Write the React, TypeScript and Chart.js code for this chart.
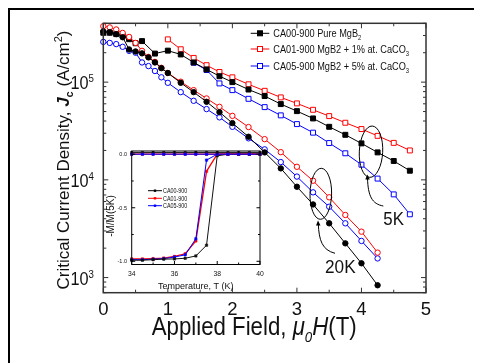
import React, { useEffect, useRef } from "react";
import { Chart, registerables } from "chart.js";

Chart.register(...registerables);

// ---------------- main chart data: Jc (A/cm^2) vs applied field (T) ----------------
const field5K_CA00 = [0, 0.1, 0.2, 0.3, 0.4, 0.5, 0.6, 0.8, 1.0, 1.2, 1.4, 1.6, 1.8, 2.0, 2.25, 2.5, 2.75, 3.0, 3.25, 3.5, 3.75, 4.0, 4.25, 4.5, 4.75];
const jc5K_CA00 = [3.2e5, 3.2e5, 3.1e5, 3.0e5, 2.75e5, 2.5e5, 2.63e5, 1.96e5, 2.1e5, 1.92e5, 1.59e5, 1.35e5, 1.15e5, 1.0e5, 8.4e4, 7.2e4, 5.96e4, 5.05e4, 4.25e4, 3.49e4, 2.89e4, 2.36e4, 1.91e4, 1.56e4, 1.24e4];

const field5K_CA01 = [1.0, 1.2, 1.4, 1.6, 1.8, 2.0, 2.25, 2.5, 2.75, 3.0, 3.25, 3.5, 3.75, 4.0, 4.25, 4.5, 4.75];
const jc5K_CA01 = [2.74e5, 2.17e5, 1.77e5, 1.49e5, 1.27e5, 1.12e5, 9.5e4, 8.15e4, 6.98e4, 6.06e4, 5.21e4, 4.49e4, 3.84e4, 3.31e4, 2.82e4, 2.39e4, 2.0e4];

const field5K_CA05 = [1.4, 1.6, 1.8, 2.0, 2.25, 2.5, 2.75, 3.0, 3.25, 3.5, 3.75, 4.0, 4.25, 4.5, 4.75];
const jc5K_CA05 = [1.58e5, 1.33e5, 9.7e4, 8.28e4, 6.75e4, 5.55e4, 4.57e4, 3.72e4, 3.04e4, 2.38e4, 1.87e4, 1.43e4, 1.03e4, 7.1e3, 4.44e3];

const field20K = [0, 0.1, 0.2, 0.3, 0.4, 0.5, 0.6, 0.7, 0.8, 0.9, 1.0, 1.2, 1.4, 1.6, 1.8, 2.0, 2.25, 2.5, 2.75, 3.0, 3.25, 3.5, 3.75, 4.0, 4.25];
const jc20K_CA00 = [3.3e5, 3.25e5, 3.1e5, 2.88e5, 2.16e5, 2.06e5, 1.97e5, 1.79e5, 1.59e5, 1.39e5, 1.24e5, 9.84e4, 7.9e4, 6.29e4, 4.93e4, 3.81e4, 2.76e4, 1.91e4, 1.31e4, 8.5e3, 5.6e3, 3.59e3, 2.24e3, 1.4e3, 834];
const jc20K_CA01 = [3.74e5, 3.63e5, 3.46e5, 3.19e5, 2.9e5, 2.52e5, 2.09e5, 1.81e5, 1.61e5, 1.4e5, 1.24e5, 1.01e5, 8.28e4, 6.81e4, 5.59e4, 4.52e4, 3.47e4, 2.61e4, 1.92e4, 1.36e4, 9.8e3, 6.63e3, 4.37e3, 2.95e3, 1.8e3];
const jc20K_CA05 = [2.58e5, 2.52e5, 2.45e5, 2.3e5, 2.09e5, 2.0e5, 1.59e5, 1.46e5, 1.3e5, 1.12e5, 9.84e4, 7.9e4, 6.44e4, 5.3e4, 4.36e4, 3.49e4, 2.66e4, 2.05e4, 1.52e4, 1.08e4, 7.45e3, 5.31e3, 3.59e3, 2.37e3, 1.57e3];

const xTickLabels = ["0", "1", "2", "3", "4", "5"];
const yTickExponents = ["3", "4", "5"];
const legendNames = ["CA00-900 Pure MgB|2", "CA01-900 MgB2 + 1% at. CaCO|3", "CA05-900 MgB2 + 5% at. CaCO|3"];
const seriesColors = ["#000000", "#ff0000", "#0000ff"];

// ---------------- inset data: -M/M(5K) vs temperature (K) ----------------
const tempK = [34, 34.5, 35, 35.5, 36, 36.5, 37, 37.5, 38, 38.5, 39, 39.5, 40];
const zfc_CA00 = [-0.99, -0.99, -0.985, -0.98, -0.978, -0.972, -0.95, -0.85, -0.015, 0, 0, 0, 0];
const zfc_CA01 = [-0.978, -0.978, -0.975, -0.97, -0.955, -0.93, -0.81, -0.16, 0, 0, 0, 0, 0];
const zfc_CA05 = [-0.985, -0.985, -0.98, -0.975, -0.96, -0.94, -0.79, -0.055, 0, 0, 0, 0, 0];
const fc_CA00 = [0.015, 0.015, 0.015, 0.015, 0.015, 0.015, 0.015, 0.015, 0.015, 0.015, 0.015, 0.015, 0.015];
const fc_CA01 = [0, 0, 0, 0, 0, 0, 0, 0, 0, 0, 0, 0, 0];
const fc_CA05 = [0, 0, 0, 0, 0, 0, 0, 0, 0, 0, 0, 0, 0];
const insetXTicks = ["34", "36", "38", "40"];
const insetYTicks = ["0.0", "-0.5", "-1.0"];
const insetLegend = ["CA00-900", "CA01-900", "CA05-900"];

// ---------------- helpers ----------------
const FONT = '"Liberation Sans", Arial, sans-serif';
type Seg = { t: string; size: number; font?: string; dy?: number };

function measureRich(ctx: CanvasRenderingContext2D, segs: Seg[]) {
  return segs.map((s) => {
    ctx.font = `${s.font ?? ""} ${s.size}px ${FONT}`.trim();
    return ctx.measureText(s.t).width;
  });
}

function drawRich(
  ctx: CanvasRenderingContext2D,
  segs: Seg[],
  x: number,
  y: number,
  align: "left" | "center" | "right",
  hscale = 1,
  fitWidth?: number
) {
  ctx.save();
  const ws = measureRich(ctx, segs);
  const total = ws.reduce((p, c) => p + c, 0);
  const hs = fitWidth ? fitWidth / total : hscale;
  ctx.translate(x, y);
  ctx.scale(hs, 1);
  let cx = align === "left" ? 0 : align === "center" ? -total / 2 : -total;
  ctx.textAlign = "left";
  ctx.textBaseline = "alphabetic";
  segs.forEach((s, i) => {
    ctx.font = `${s.font ?? ""} ${s.size}px ${FONT}`.trim();
    ctx.fillText(s.t, cx, s.dy ?? 0);
    cx += ws[i];
  });
  ctx.restore();
}

function line(ctx: CanvasRenderingContext2D, x1: number, y1: number, x2: number, y2: number) {
  ctx.beginPath();
  ctx.moveTo(x1, y1);
  ctx.lineTo(x2, y2);
  ctx.stroke();
}

function arrowHead(ctx: CanvasRenderingContext2D, x: number, y: number, ang: number, size: number) {
  ctx.save();
  ctx.translate(x, y);
  ctx.rotate(ang);
  ctx.beginPath();
  ctx.moveTo(0, 0);
  ctx.lineTo(-size, -size * 0.45);
  ctx.lineTo(-size, size * 0.45);
  ctx.closePath();
  ctx.fill();
  ctx.restore();
}

// page offset of main canvas = (10,10)
const mainDecor = {
  id: "mainDecor",
  afterDatasetsDraw(chart: any) {
    const ctx: CanvasRenderingContext2D = chart.ctx;
    const a = chart.chartArea;
    const xs = chart.scales.x;
    const ys = chart.scales.y;
    ctx.save();
    // frame
    ctx.strokeStyle = "#333";
    ctx.lineWidth = 1.5;
    ctx.strokeRect(a.left, a.top, a.right - a.left, a.bottom - a.top);
    // ticks (inward, mirrored)
    ctx.lineWidth = 1;
    const xMajors = xTickLabels.map(Number);
    for (let i = 0; i < xMajors.length; i++) {
      const px = xs.getPixelForValue(xMajors[i]);
      line(ctx, px, a.bottom, px, a.bottom - 5);
      line(ctx, px, a.top, px, a.top + 5);
      if (i < xMajors.length - 1) {
        const pm = xs.getPixelForValue((xMajors[i] + xMajors[i + 1]) / 2);
        line(ctx, pm, a.bottom, pm, a.bottom - 3);
        line(ctx, pm, a.top, pm, a.top + 3);
      }
    }
    for (let e = 2; e <= 5; e++) {
      for (let k = 1; k <= 9; k++) {
        const v = k * Math.pow(10, e);
        if (v < ys.min || v > ys.max) continue;
        const py = ys.getPixelForValue(v);
        const L = k === 1 ? 5 : 3;
        line(ctx, a.left, py, a.left + L, py);
        line(ctx, a.right, py, a.right - L, py);
      }
    }
    ctx.fillStyle = "#111";
    // x tick labels
    xTickLabels.forEach((lab) => {
      const px = xs.getPixelForValue(Number(lab));
      drawRich(ctx, [{ t: lab, size: 18.5 }], px, 305, "center", 1);
    });
    // y tick labels
    yTickExponents.forEach((ex) => {
      const py = ys.getPixelForValue(Math.pow(10, Number(ex)));
      drawRich(ctx, [{ t: "10", size: 18.5 }, { t: ex, size: 11, dy: -7.3 }], 84, py + 7.3, "right", 0.88);
    });
    // x title
    drawRich(
      ctx,
      [
        { t: "Applied Field, ", size: 25 },
        { t: "\u03bc", size: 25, font: "italic" },
        { t: "0", size: 15, font: "italic", dy: 7 },
        { t: "H", size: 25, font: "italic" },
        { t: "(T)", size: 25 },
      ],
      244.2,
      325,
      "center",
      1,
      205
    );
    // y title
    ctx.save();
    ctx.translate(58.5, 150);
    ctx.rotate(-Math.PI / 2);
    drawRich(
      ctx,
      [
        { t: "Critical Current Density, ", size: 17 },
        { t: "J", size: 17, font: "italic bold" },
        { t: "c", size: 11, font: "bold", dy: 4 },
        { t: " (A/cm", size: 17 },
        { t: "2", size: 11, dy: -7 },
        { t: ")", size: 17 },
      ],
      0,
      0,
      "center",
      1,
      259
    );
    ctx.restore();
    // legend
    const rows = [23.3, 39, 56];
    legendNames.forEach((nm, i) => {
      const y = rows[i];
      const col = seriesColors[i];
      ctx.strokeStyle = col;
      ctx.lineWidth = 1;
      line(ctx, 240.7, y, 259.3, y);
      ctx.fillStyle = i === 0 ? col : "#fff";
      ctx.fillRect(250 - 2.5, y - 2.5, 5, 5);
      ctx.strokeRect(250 - 2.5, y - 2.5, 5, 5);
      const [main, sub] = nm.split("|");
      ctx.fillStyle = "#111";
      drawRich(ctx, [{ t: main, size: 11 }, { t: sub, size: 7, dy: 3 }], 263.3, y + 4, "left", 0.835);
    });
    // annotations
    ctx.strokeStyle = "#000";
    ctx.fillStyle = "#000";
    ctx.lineWidth = 1;
    ctx.beginPath();
    ctx.ellipse(361, 141.7, 11.7, 25.7, 0.05, 0, Math.PI * 2);
    ctx.stroke();
    ctx.beginPath();
    ctx.ellipse(310.8, 183.8, 10.8, 25.5, 0.02, 0, Math.PI * 2);
    ctx.stroke();
    // arrow 5K
    ctx.beginPath();
    ctx.moveTo(373.3, 196);
    ctx.bezierCurveTo(362, 194, 358, 186, 357.5, 168);
    ctx.stroke();
    arrowHead(ctx, 357.3, 164.5, -Math.PI / 2 - 0.05, 5);
    // arrow 20K
    ctx.beginPath();
    ctx.moveTo(325, 243.3);
    ctx.bezierCurveTo(312, 240, 309, 230, 308.3, 214);
    ctx.stroke();
    arrowHead(ctx, 308, 210.5, -Math.PI / 2 - 0.05, 5);
    ctx.fillStyle = "#111";
    drawRich(ctx, [{ t: "5K", size: 18.5 }], 373.3, 215, "left", 0.91);
    drawRich(ctx, [{ t: "20K", size: 18.5 }], 315, 263.3, "left", 0.93);
    ctx.restore();
  },
};

// page offset of inset canvas = (95,140)
const insetDecor = {
  id: "insetDecor",
  afterDatasetsDraw(chart: any) {
    const ctx: CanvasRenderingContext2D = chart.ctx;
    const a = chart.chartArea;
    const xs = chart.scales.x;
    const ys = chart.scales.y;
    ctx.save();
    ctx.strokeStyle = "#000";
    ctx.lineWidth = 1;
    ctx.strokeRect(a.left, a.top, a.right - a.left, a.bottom - a.top);
    const xMaj = insetXTicks.map(Number);
    xMaj.forEach((v, i) => {
      const px = xs.getPixelForValue(v);
      line(ctx, px, a.bottom, px, a.bottom - 3.5);
      line(ctx, px, a.top, px, a.top + 3.5);
      if (i < xMaj.length - 1) {
        const pm = xs.getPixelForValue((v + xMaj[i + 1]) / 2);
        line(ctx, pm, a.bottom, pm, a.bottom - 2);
        line(ctx, pm, a.top, pm, a.top + 2);
      }
    });
    const yMaj = insetYTicks.map(Number);
    yMaj.forEach((v, i) => {
      const py = ys.getPixelForValue(v);
      line(ctx, a.left, py, a.left + 3.5, py);
      line(ctx, a.right, py, a.right - 3.5, py);
      if (i < yMaj.length - 1) {
        const pm = ys.getPixelForValue((v + yMaj[i + 1]) / 2);
        line(ctx, a.left, pm, a.left + 2, pm);
        line(ctx, a.right, pm, a.right - 2, pm);
      }
    });
    ctx.fillStyle = "#111";
    insetXTicks.forEach((lab) => {
      drawRich(ctx, [{ t: lab, size: 8 }], xs.getPixelForValue(Number(lab)), 136, "center", 0.85);
    });
    insetYTicks.forEach((lab) => {
      drawRich(ctx, [{ t: lab, size: 5.5 }], 32, ys.getPixelForValue(Number(lab)) + 2, "right", 1);
    });
    drawRich(ctx, [{ t: "Temperature, T (K)", size: 9 }], (a.left + a.right) / 2, 149, "center", 1);
    ctx.save();
    ctx.translate(18.5, 76);
    ctx.rotate(-Math.PI / 2);
    drawRich(ctx, [{ t: "-M/M(5K)", size: 10 }], 0, 0, "center", 1);
    ctx.restore();
    // inset legend
    const rows = [50.7, 58.3, 65.7];
    insetLegend.forEach((nm, i) => {
      const y = rows[i];
      ctx.strokeStyle = seriesColors[i];
      ctx.fillStyle = seriesColors[i];
      ctx.lineWidth = 1;
      line(ctx, 53, y, 67, y);
      ctx.fillRect(60 - 1.2, y - 1.2, 2.4, 2.4);
      ctx.fillStyle = "#111";
      drawRich(ctx, [{ t: nm, size: 6.5 }], 68, y + 2.3, "left", 0.83);
    });
    ctx.restore();
  },
};

function pts(xs: number[], ys: number[]) {
  return xs.map((x, i) => ({ x, y: ys[i] }));
}

export default function App() {
  const mainRef = useRef<HTMLCanvasElement>(null);
  const insetRef = useRef<HTMLCanvasElement>(null);

  useEffect(() => {
    const mk = (label: string, data: any[], color: string, style: string, filled: boolean, r: number) => ({
      label,
      data,
      borderColor: color,
      backgroundColor: color,
      borderWidth: 1,
      pointStyle: style,
      pointRadius: r,
      pointBorderWidth: 1,
      pointBorderColor: color,
      pointBackgroundColor: filled ? color : "#ffffff",
      tension: 0,
      clip: false as any,
    });
    const main = new Chart(mainRef.current as HTMLCanvasElement, {
      type: "line",
      data: {
        datasets: [
          mk("CA00-900 20K", pts(field20K, jc20K_CA00), seriesColors[0], "circle", true, 2.7),
          mk("CA01-900 20K", pts(field20K, jc20K_CA01), seriesColors[1], "circle", false, 2.7),
          mk("CA05-900 20K", pts(field20K, jc20K_CA05), seriesColors[2], "circle", false, 2.7),
          mk("CA00-900 5K", pts(field5K_CA00, jc5K_CA00), seriesColors[0], "rect", true, 3.5),
          mk("CA01-900 5K", pts(field5K_CA01, jc5K_CA01), seriesColors[1], "rect", false, 3.5),
          mk("CA05-900 5K", pts(field5K_CA05, jc5K_CA05), seriesColors[2], "rect", false, 3.5),
        ] as any,
      },
      options: {
        animation: false,
        responsive: false,
        events: [],
        layout: { padding: { left: 93.3, top: 13.3, right: 54, bottom: 70.3 } },
        plugins: { legend: { display: false }, tooltip: { enabled: false }, title: { display: false } },
        scales: {
          x: { type: "linear", min: 0, max: 5, display: false },
          y: { type: "logarithmic", min: 700, max: 4e5, display: false },
        },
      },
      plugins: [mainDecor as any],
    });

    const mki = (label: string, ys: number[], color: string, w = 1) => ({
      label,
      data: pts(tempK, ys),
      borderColor: color,
      backgroundColor: color,
      borderWidth: w,
      pointStyle: "rect",
      pointRadius: 1.7,
      pointBorderWidth: 0.5,
      pointBorderColor: color,
      pointBackgroundColor: color,
      tension: 0,
      clip: false as any,
    });
    const inset = new Chart(insetRef.current as HTMLCanvasElement, {
      type: "line",
      data: {
        datasets: [
          mki("CA05-900 FC", fc_CA05, seriesColors[2]),
          mki("CA01-900 FC", fc_CA01, seriesColors[1], 1.3),
          mki("CA00-900 FC", fc_CA00, "#111"),
          mki("CA00-900", zfc_CA00, "#111"),
          mki("CA05-900", zfc_CA05, seriesColors[2]),
          mki("CA01-900", zfc_CA01, seriesColors[1], 1.3),
        ] as any,
      },
      options: {
        animation: false,
        responsive: false,
        events: [],
        layout: { padding: { left: 36.7, top: 11, right: 10, bottom: 35.5 } },
        plugins: { legend: { display: false }, tooltip: { enabled: false }, title: { display: false } },
        scales: {
          x: { type: "linear", min: 34, max: 40, display: false },
          y: { type: "linear", min: -1.03, max: 0.03, display: false },
        },
      },
      plugins: [insetDecor as any],
    });

    return () => {
      main.destroy();
      inset.destroy();
    };
  }, []);

  return (
    <div style={{ position: "relative", width: 470, height: 400, border: "2px solid #000", background: "#fff" }}>
      <style>{"html,body{overflow:hidden;}"}</style>
      <canvas ref={mainRef} width={470} height={353} style={{ position: "absolute", left: 0, top: 0 }} />
      <canvas ref={insetRef} width={175} height={160} style={{ position: "absolute", left: 85, top: 130 }} />
    </div>
  );
}
